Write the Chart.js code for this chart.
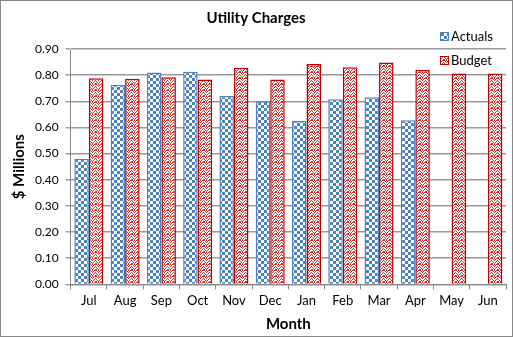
<!DOCTYPE html>
<html><head><meta charset="utf-8">
<script src="https://cdn.jsdelivr.net/npm/chart.js@4.4.0/dist/chart.umd.min.js"></script>
<style>html,body{margin:0;padding:0;background:#fff}#wrap{width:513px;height:337px;position:relative}</style>
</head><body><div id="wrap"><canvas id="c" width="513" height="337"></canvas></div>
<script>
const months = ["Jul","Aug","Sep","Oct","Nov","Dec","Jan","Feb","Mar","Apr","May","Jun"];
const actuals = [0.48,0.763,0.81,0.813,0.72,0.70,0.625,0.708,0.716,0.628,null,null];
const budget = [0.788,0.786,0.792,0.783,0.828,0.783,0.843,0.830,0.848,0.820,0.806,0.806];
const seriesNames = ["Actuals","Budget"];

function checker(){
  const c=document.createElement('canvas');c.width=6;c.height=6;const x=c.getContext('2d');
  x.fillStyle='#fff';x.fillRect(0,0,6,6);x.fillStyle='#4F81BD';x.fillRect(0,0,3,3);x.fillRect(3,3,3,3);
  return x.createPattern(c,'repeat');
}
function weave(){
  const c=document.createElement('canvas');c.width=6;c.height=6;const x=c.getContext('2d');
  x.fillStyle='#fff';x.fillRect(0,0,6,6);x.fillStyle='#D42B2B';
  const pts=[[0,0],[1,1],[2,2],[3,1],[4,0],[0,3],[1,4],[2,5],[3,4],[4,3],[5,2],[5,5],[2,0],[5,0],[0,5]];
  pts.forEach(p=>x.fillRect(p[0],p[1],1,1));
  return x.createPattern(c,'repeat');
}
const blueP=checker(), redP=weave();
const font="Lato, 'Liberation Sans', sans-serif";

const extras={id:'extras',
  afterDraw(ch){const x=ch.ctx;x.save();
    x.font="13px "+font;x.fillStyle='#000';x.textBaseline='middle';
    const items=[[seriesNames[0],blueP,'#4F81BD',37],[seriesNames[1],redP,'#C00000',61]];
    items.forEach(it=>{x.fillStyle=it[1];x.fillRect(440,it[3]-4,8,8);x.strokeStyle=it[2];x.lineWidth=1;x.strokeRect(440.5,it[3]-4.5,8,8);
      x.fillStyle='#000';x.fillText(it[0],451,it[3]);});
    x.strokeStyle='#888';x.lineWidth=1;x.strokeRect(0.5,0.5,512,336);x.restore();}
};

new Chart(document.getElementById('c'),{
  type:'bar',
  data:{labels:months,datasets:[
    {label:seriesNames[0],data:actuals,backgroundColor:blueP,borderColor:'#4F81BD',borderWidth:1.5},
    {label:seriesNames[1],data:budget,backgroundColor:redP,borderColor:'#C00000',borderWidth:1.5}
  ]},
  options:{responsive:false,animation:false,
    layout:{padding:{top:6,right:7,left:6,bottom:4}},
    datasets:{bar:{barPercentage:1,categoryPercentage:0.8}},
    plugins:{legend:{display:false},tooltip:{enabled:false},
      title:{display:true,text:'Utility Charges',color:'#000',font:{family:font,size:15,weight:'bold'},padding:{top:3,bottom:22}}},
    scales:{
      x:{grid:{display:true,drawOnChartArea:false,offset:true,color:'#888',tickLength:5},border:{color:'#888'},
        ticks:{color:'#000',font:{family:font,size:13},padding:4},
        title:{display:true,text:'Month',color:'#000',font:{family:font,size:15,weight:'bold'},padding:{top:2,bottom:0}}},
      y:{min:0,max:0.9,grid:{color:'#999',lineWidth:1.5,tickLength:5},border:{color:'#888'},
        ticks:{stepSize:0.1,color:'#000',font:{family:font,size:12},callback:v=>v.toFixed(2),padding:7},
        title:{display:true,text:'$ Millions',color:'#000',font:{family:font,size:15,weight:'bold'},padding:{bottom:0}}}
    }},
  plugins:[extras]
});
</script></body></html>
